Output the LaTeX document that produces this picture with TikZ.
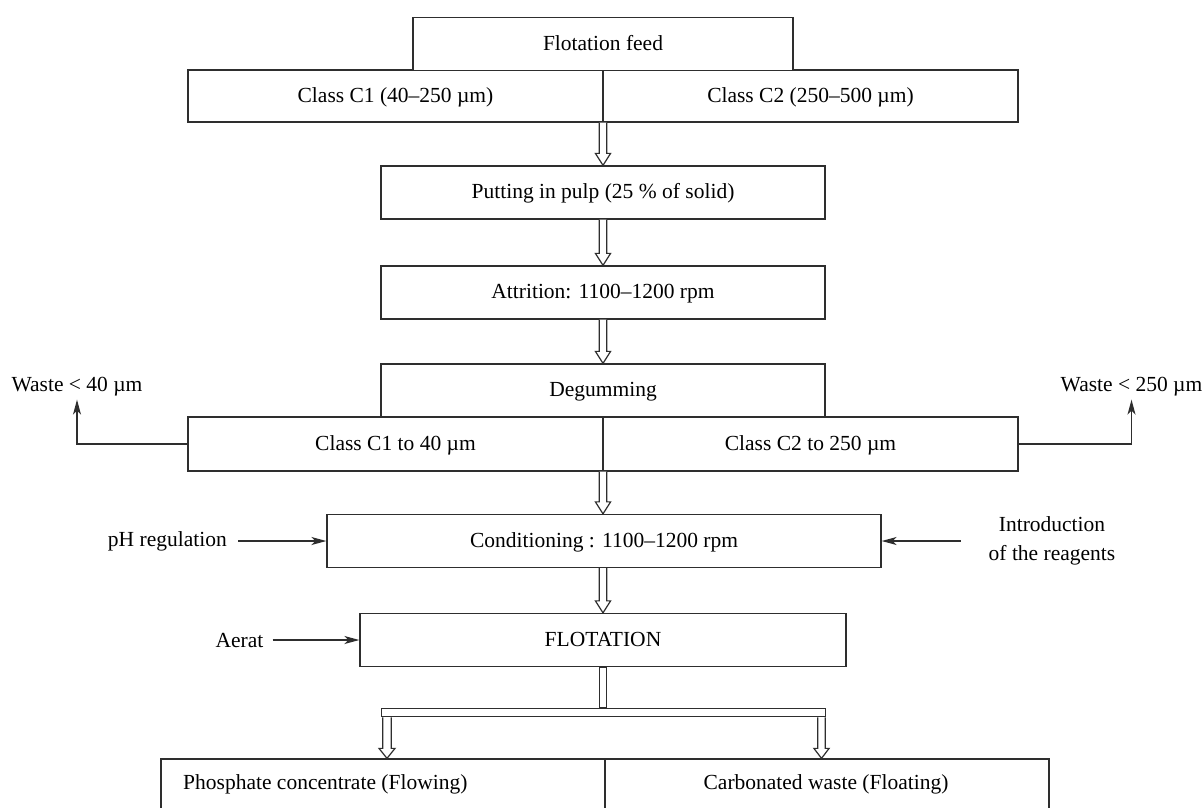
\documentclass[tikz,border=0pt]{standalone}
\usepackage{fontspec}
\setmainfont{Liberation Serif}
\usetikzlibrary{arrows.meta,calc}
\definecolor{ln}{HTML}{2E2E2E}
\newcommand\harr[6]{%
  \draw[hol] ($(#1 |- #2)+(-#4,0)$) -- ($(#1 |- #3)+(-#4,-#6)$) -- ($(#1 |- #3)+(-#5,-#6)$) -- (#1 |- #3) -- ($(#1 |- #3)+(#5,-#6)$) -- ($(#1 |- #3)+(#4,-#6)$) -- ($(#1 |- #2)+(#4,0)$);%
}
\begin{document}
\begin{tikzpicture}[x=1pt,y=-1pt,
  every node/.style={font=\fontsize{21.5}{26}\selectfont, text=black},
  box/.style={draw=ln, line width=1.3pt, fill=white, rectangle, inner sep=0pt, text height=15pt, text depth=3pt},
  lbl/.style={inner sep=0pt, text height=15pt, text depth=3pt},
  side/.style={inner sep=3pt},
  hol/.style={draw=ln, line width=1.2pt, fill=white, line join=miter},
  arr/.style={draw=ln, line width=1.3pt, -{Stealth[length=15pt,width=8pt,inset=4pt]}},
  ln/.style={draw=ln, line width=1.3pt}]
\clip (0,0) rectangle (1204,807);
\useasboundingbox (0,0) rectangle (1204,807);
\fill[white] (0,0) rectangle (1204,807);
\coordinate (cx) at (603,0);
\coordinate (lx) at (387,0);
\coordinate (rx) at (821.5,0);

% main column
\node[box, minimum width=830pt, minimum height=52pt] (cls) at (603,96) {};
\node[box, minimum width=380pt, minimum height=53pt] (feed) at (603,44) {Flotation feed};
\draw[ln] (feed.south) -- (cls.south);
\node[lbl] (c1) at (395.5,96) {Class C1 (40–250 µm)};
\node[lbl] (c2) at (810.5,96) {Class C2 (250–500 µm)};

\node[box, minimum width=444pt, minimum height=53pt] (pulp) at (603,192.5) {Putting in pulp (25 \% of solid)};
\node[box, minimum width=444pt, minimum height=53pt] (att) at (603,292.5) {Attrition: 1100–1200 rpm};
\node[box, minimum width=830pt, minimum height=54pt] (row2) at (603,444) {};
\node[box, minimum width=444pt, minimum height=53pt] (deg) at (603,390.5) {Degumming};
\draw[ln] (deg.south) -- (row2.south);
\node[lbl] (r1) at (395.5,444) {Class C1 to 40 µm};
\node[lbl] (r2) at (810.5,444) {Class C2 to 250 µm};

\node[box, minimum width=554pt, minimum height=53pt] (cond) at (604,541) {Conditioning : 1100–1200 rpm};
\node[box, minimum width=486pt, minimum height=53pt] (flot) at (603,640) {FLOTATION};
\node[box, minimum width=444pt, minimum height=8.4pt, text height=0pt, text depth=0pt] (bar) at (603.7,712.5) {};
\node[box, minimum width=888pt, minimum height=72pt] (bot) at (605,795) {};
\draw[ln] (bot.north) -- (bot.south);
\node[lbl, anchor=west] (p1) at (183,783) {Phosphate concentrate (Flowing)};
\node[lbl] (p2) at (826,783) {Carbonated waste (Floating)};

% hollow arrows
\harr{cx}{cls.south}{pulp.north}{3.7}{7.6}{12}
\harr{cx}{pulp.south}{att.north}{3.7}{7.6}{12}
\harr{cx}{att.south}{deg.north}{3.7}{7.6}{12}
\harr{cx}{row2.south}{cond.north}{3.7}{7.6}{12}
\harr{cx}{cond.south}{flot.north}{3.7}{7.6}{12}
\draw[hol] ($(flot.south)+(-3.3,0)$) rectangle ($(flot.south |- bar.north)+(3.3,0)$);
\harr{lx}{bar.south}{bot.north}{4.3}{8}{10}
\harr{rx}{bar.south}{bot.north}{3.7}{7.6}{10}

% side labels
\node[side] (wl) at (77,387) {Waste < 40 µm};
\node[side] (wr) at (1131.5,387) {Waste < 250 µm};
\draw[arr] (row2.west) -| (wl.south);
\draw[arr] (row2.east) -| (wr.south);

\node[side, anchor=east] (ph) at (230,541) {pH regulation};
\draw[arr] ([xshift=8pt]ph.east) -- (cond.west);
\node[side, align=center] (reag) at (1052,541) {Introduction\\[3pt]of the reagents};
\draw[arr] ([xshift=-25pt]reag.west) -- (cond.east);
\node[side] (aer) at (239.5,640) {Aerat};
\draw[arr] ([xshift=6pt]aer.east) -- (flot.west);
\end{tikzpicture}
\end{document}
